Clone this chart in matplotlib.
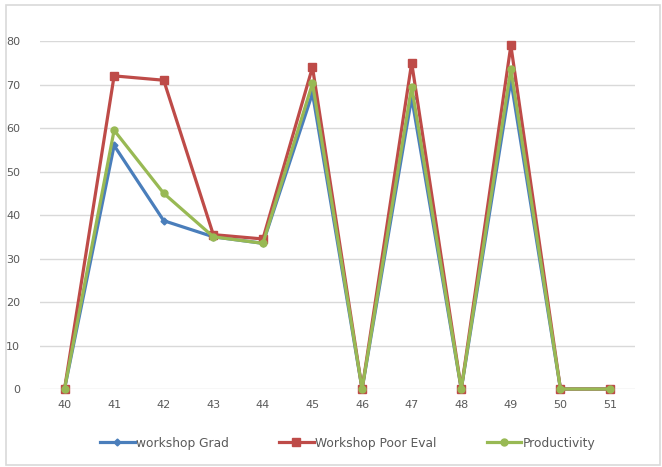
import numpy as np
import matplotlib.pyplot as plt
from matplotlib.patches import Rectangle

weeks = [40, 41, 42, 43, 44, 45, 46, 47, 48, 49, 50, 51]
workshop_grad = [0, 56, 38.7, 35, 33.5, 68, 0, 67, 0, 71, 0, 0]
workshop_poor_eval = [0, 72, 71, 35.5, 34.5, 74, 0, 75, 0, 79, 0, 0]
productivity = [0, 59.5, 45, 35, 33.5, 70.3, 0, 69.5, 0, 73.6, 0, 0]

fig = plt.figure(figsize=(6.62, 4.67), dpi=100)
ax = fig.add_axes([0.060, 0.167, 0.899, 0.745])

# outer chart frame
fig.patches.append(Rectangle((6/662, 2/467), 654/662, 460/467, transform=fig.transFigure,
                             fill=False, edgecolor='#d9d9d9', linewidth=1.2))

ax.plot(weeks, workshop_grad, color='#4a7ebb', marker='D', markersize=3.5, linewidth=2.3,
        label='workshop Grad', clip_on=False, zorder=3)
ax.plot(weeks, workshop_poor_eval, color='#be4b48', marker='s', markersize=5.5, linewidth=2.3,
        label='Workshop Poor Eval', clip_on=False, zorder=4)
ax.plot(weeks, productivity, color='#98b954', marker='o', markersize=5, linewidth=2.3,
        label='Productivity', clip_on=False, zorder=5)

ax.set_xlim(39.5, 51.5)
ax.set_ylim(0, 80)
ax.set_xticks(weeks)
ax.set_yticks(np.arange(0, 81, 10))
ax.grid(axis='y', color='#d9d9d9', linewidth=1)
ax.set_axisbelow(True)
for s in ax.spines.values():
    s.set_visible(False)
ax.tick_params(length=0, colors='#595959', labelsize=8, pad=8)
ax.tick_params(axis='y', pad=14)

ax.legend(loc='upper center', bbox_to_anchor=(0.518, -0.105), ncol=3, frameon=False,
          fontsize=8.8, labelcolor='#595959', handlelength=2.8, handletextpad=0.15,
          columnspacing=4.1)

fig.savefig('out.png', dpi=100)
